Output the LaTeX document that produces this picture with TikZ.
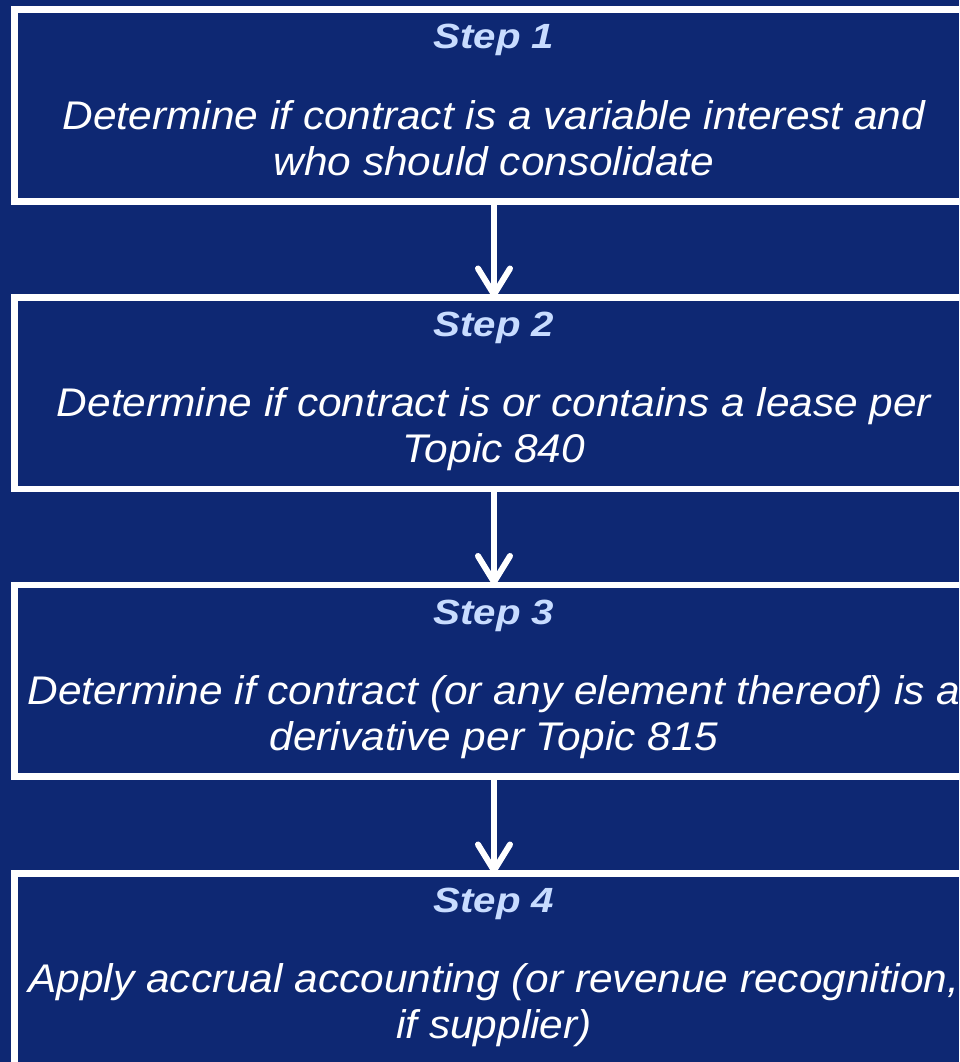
\documentclass[tikz,border=0pt]{standalone}
\usepackage{fontspec}
\setmainfont[FakeStretch=1.06]{Liberation Sans}
\newfontfamily\titlefont[FakeStretch=1.15]{Liberation Sans}
\usetikzlibrary{arrows.meta}
\definecolor{navy}{HTML}{0E2873}
\definecolor{steplabel}{HTML}{C8DCFF}
\newcommand\bodyfont{\fontsize{40}{47}\selectfont\itshape}
\newcommand\headfont{\titlefont\fontsize{35}{40}\selectfont\bfseries\itshape}
\tikzset{
  stepbox/.style={draw=white, line width=6.5pt, minimum width=959pt,
    minimum height=191.5pt, anchor=north, inner sep=0pt},
  steptitle/.style={text=steplabel, font=\headfont, inner sep=0pt, anchor=base},
  stepbody/.style={text=white, font=\bodyfont, inner sep=0pt, anchor=base},
  flow/.style={draw=white, line width=6pt, -{Straight Barb[length=26pt,width=32pt,round]}}
}
\begin{document}
\begin{tikzpicture}[x=1pt,y=-1pt]
  \useasboundingbox[fill=navy] (0,0) rectangle (959,1062);
  % four stacked boxes, each running off the right edge
  \foreach \i/\top in {1/6.5, 2/294, 3/581.5, 4/870}
    \node[stepbox] (b\i) at (494,\top) {};
  % step 1
  \node[steptitle] (t1) at (494,49) {Step 1};
  \node[stepbody] (d1a) at (494,129) {Determine if contract is a variable interest and};
  \node[stepbody] (d1b) at (494,175) {who should consolidate};
  % step 2
  \node[steptitle] (t2) at (494,336.5) {Step 2};
  \node[stepbody] (d2a) at (494,416.5) {Determine if contract is or contains a lease per};
  \node[stepbody] (d2b) at (494,462.5) {Topic 840};
  % step 3
  \node[steptitle] (t3) at (494,624) {Step 3};
  \node[stepbody] (d3a) at (494,704) {Determine if contract (or any element thereof) is a};
  \node[stepbody] (d3b) at (494,750) {derivative per Topic 815};
  % step 4
  \node[steptitle] (t4) at (494,912.5) {Step 4};
  \node[stepbody] (d4a) at (494,992.5) {Apply accrual accounting (or revenue recognition,};
  \node[stepbody] (d4b) at (494,1038.5) {if supplier)};
  % connectors
  \draw[flow] (b1.south) -- ([yshift=-3.5pt]b2.north);
  \draw[flow] (b2.south) -- ([yshift=-3.5pt]b3.north);
  \draw[flow] (b3.south) -- ([yshift=-3.5pt]b4.north);
\end{tikzpicture}
\end{document}
